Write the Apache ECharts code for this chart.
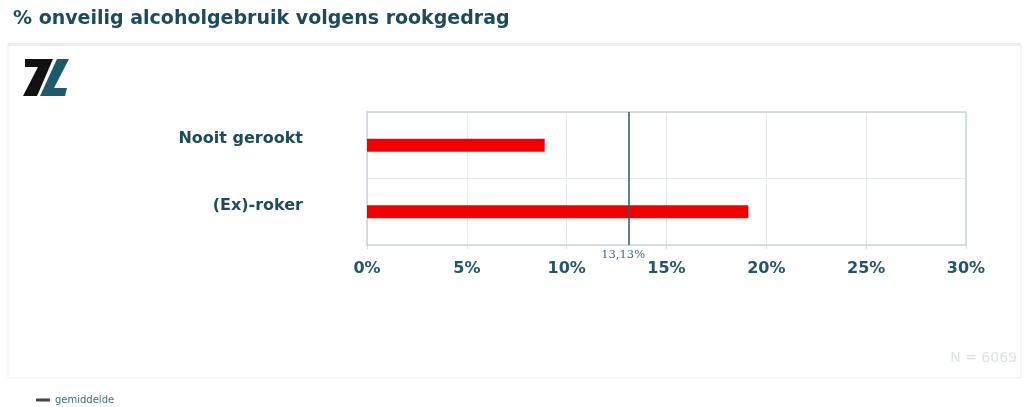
<!DOCTYPE html>
<html>
<head>
<meta charset="utf-8">
<script src="https://cdn.jsdelivr.net/npm/echarts@6/dist/echarts.min.js"></script>
<style>
  html, body { margin: 0; padding: 0; background: #ffffff; }
  #chart { width: 1027px; height: 407px; }
</style>
</head>
<body>
<div id="chart"></div>
<script>
// Rookgedrag categories and share of unsafe alcohol use (%)
const categories = ['Nooit gerookt', '(Ex)-roker'];
const values = [8.9, 19.1];
const average = 13.13;
const sampleSize = 6069;
const axisTicks = [0, 5, 10, 15, 20, 25, 30];

const teal = '#1d4b5c';

const chart = echarts.init(document.getElementById('chart'), null, { renderer: 'canvas' });

const option = {
  backgroundColor: '#ffffff',
  animation: false,
  title: {
    text: '% onveilig alcoholgebruik volgens rookgedrag',
    left: 8,
    top: 5,
    textStyle: { fontFamily: 'DejaVu Sans', fontWeight: 'bold', fontSize: 19, color: teal }
  },
  legend: {
    data: [{ name: 'gemiddelde', icon: 'rect' }],
    left: 31,
    top: 390,
    itemWidth: 14,
    itemHeight: 3,
    itemGap: 4,
    textStyle: { fontFamily: 'DejaVu Sans', fontSize: 10, color: '#3a6f82' },
    selectedMode: false
  },
  grid: { left: 367, right: 61, top: 112, bottom: 162 },
  xAxis: {
    type: 'value',
    min: axisTicks[0],
    max: axisTicks[axisTicks.length - 1],
    interval: 5,
    axisLine: { show: false },
    axisTick: { show: true, length: 4, lineStyle: { color: '#d6dee4' } },
    splitLine: { show: true, lineStyle: { color: '#e3e9ed', width: 1 } },
    axisLabel: {
      formatter: v => v + '%',
      margin: 16,
      fontFamily: 'DejaVu Sans',
      fontWeight: 'bold',
      fontSize: 16,
      color: '#24566a'
    }
  },
  yAxis: {
    type: 'category',
    data: categories,
    inverse: true,
    axisLine: { show: false },
    axisTick: { show: false },
    splitLine: { show: true, lineStyle: { color: '#e3e9ed', width: 1 } },
    axisLabel: {
      margin: 64,
      verticalAlign: 'bottom',
      lineHeight: 12,
      fontFamily: 'DejaVu Sans',
      fontWeight: 'bold',
      fontSize: 16,
      color: teal
    }
  },
  series: [
    {
      name: 'onveilig alcoholgebruik',
      type: 'bar',
      data: values,
      barWidth: 13,
      itemStyle: { color: '#f20000' },
      z: 2
    },
    {
      name: 'gemiddelde',
      type: 'line',
      data: [],
      itemStyle: { color: '#3c4a50' },
      lineStyle: { color: '#3c4a50' },
      markLine: {
        symbol: 'none',
        silent: true,
        lineStyle: { color: '#2e5566', width: 1.5, type: 'solid' },
        label: {
          show: true,
          position: 'end',
          distance: 4,
          offset: [-6, 0],
          formatter: p => p.value.toFixed(2).replace('.', ',') + '%',
          fontFamily: 'DejaVu Serif',
          fontSize: 11.5,
          color: '#3a6f82'
        },
        data: [{ xAxis: average }]
      },
      z: 3
    }
  ],
  graphic: [
    // panel frame
    {
      type: 'rect',
      shape: { x: 8, y: 45, width: 1013, height: 333 },
      style: { fill: 'none', stroke: '#ebeeef', lineWidth: 1 },
      silent: true, z: -1
    },
    {
      type: 'rect',
      shape: { x: 8, y: 43, width: 1013, height: 3 },
      style: { fill: '#eceeee' },
      silent: true, z: -1
    },
    // plot border
    {
      type: 'rect',
      shape: { x: 367, y: 112, width: 599, height: 133 },
      style: { fill: 'none', stroke: '#c9d6de', lineWidth: 1.5 },
      silent: true, z: 1
    },
    // logo
    {
      type: 'polygon',
      shape: { points: [[25, 59], [53, 59], [37, 96], [23, 96], [38, 67], [25, 67]] },
      style: { fill: '#111111' },
      silent: true
    },
    {
      type: 'polygon',
      shape: { points: [[57, 59], [69, 59], [54, 88], [67, 88], [65, 96], [40, 96]] },
      style: { fill: '#1e5a6a' },
      silent: true
    },
    {
      type: 'text',
      right: 10,
      top: 351,
      style: {
        text: 'N = ' + sampleSize,
        fontFamily: 'DejaVu Sans',
        fontSize: 14,
        fill: '#dde2e4'
      },
      silent: true
    }
  ]
};

chart.setOption(option);
</script>
</body>
</html>
